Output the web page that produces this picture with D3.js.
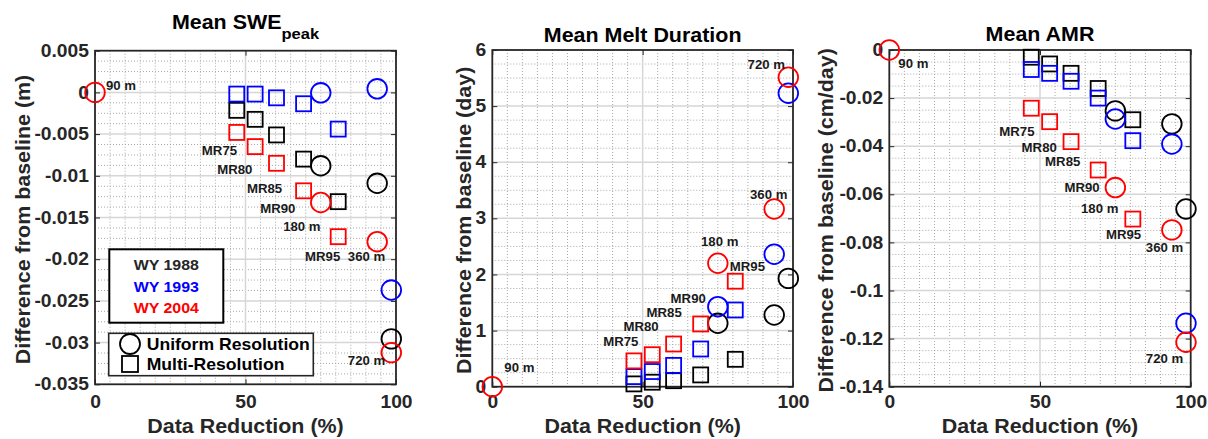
<!doctype html>
<html>
<head>
<meta charset="utf-8">
<title>Difference from baseline vs data reduction</title>
<script src="https://cdn.jsdelivr.net/npm/d3@7"></script>
<style>
  body { margin: 0; background: #fff; }
  svg text { font-family: "Liberation Sans", Arial, Helvetica, sans-serif; font-weight: bold; }
</style>
</head>
<body>
<svg id="chart" width="1208" height="439"></svg>
<script>
// x: data reduction (%) of each run
var mrNames = ["MR75", "MR80", "MR85", "MR90", "MR95"];
var mrReduction = [47.1, 53.2, 60.3, 69.3, 80.8];
var urNames = ["90 m", "180 m", "360 m", "720 m"];
var urReduction = [0, 75, 93.75, 98.44];

var years = ["WY 1988", "WY 1993", "WY 2004"];
var yearColors = ["#000000", "#0000ff", "#ff0000"];

var xTicks = [0, 50, 100];

// Mean SWE peak, difference from baseline (m); one row per water year
// (the 90 m baseline is only drawn once, in red, as in the figure)
var sweMR = [
  [-0.00215, -0.00323, -0.0051, -0.008, -0.0131],
  [-0.0002, -0.0002, -0.00065, -0.00136, -0.0044],
  [-0.0048, -0.0065, -0.0085, -0.0118, -0.0173]
];
var sweUR = [
  [null, -0.0088, -0.0109, -0.02955],
  [null, -0.00005, 0.00043, -0.0237],
  [0, -0.0132, -0.0179, -0.0312]
];
var sweTicks = [0.005, 0, -0.005, -0.01, -0.015, -0.02, -0.025, -0.03, -0.035];

// Mean melt duration, difference from baseline (day)
var meltMR = [
  [0.05, 0.08, 0.107, 0.21, 0.488],
  [0.18, 0.27, 0.38, 0.672, 1.367],
  [0.46, 0.57, 0.761, 1.118, 1.88]
];
var meltUR = [
  [null, 1.13, 1.278, 1.93],
  [null, 1.426, 2.36, 5.23],
  [0, 2.2, 3.167, 5.515]
];
var meltTicks = [6, 5, 4, 3, 2, 1, 0];

// Mean AMR, difference from baseline (cm/day)
var amrMR = [
  [-0.003, -0.0058, -0.0097, -0.016, -0.029],
  [-0.0081, -0.0097, -0.013, -0.020, -0.0377],
  [-0.0242, -0.0298, -0.0381, -0.0499, -0.0703]
];
var amrUR = [
  [null, -0.0253, -0.0307, -0.0661],
  [null, -0.0287, -0.0391, -0.1136],
  [0, -0.0572, -0.0748, -0.1215]
];
var amrTicks = [0, -0.02, -0.04, -0.06, -0.08, -0.1, -0.12, -0.14];

// annotation anchors, in data units (text starts here)
var sweNotes = [
  ["90 m", 3.65, 0.000275], ["MR75", 35.5, -0.00754], ["MR80", 40.6, -0.00974],
  ["MR85", 50.5, -0.01201], ["MR90", 54.9, -0.01444], ["180 m", 62.5, -0.01667],
  ["MR95", 69.8, -0.02026], ["360 m", 84.0, -0.02026], ["720 m", 84.0, -0.03274]
];
var meltNotes = [
  ["720 m", 84.9, 5.66], ["360 m", 85.7, 3.35], ["180 m", 69.4, 2.51],
  ["MR95", 79.0, 2.07], ["MR90", 59.3, 1.49], ["MR85", 51.3, 1.24],
  ["MR80", 43.6, 1.0], ["MR75", 36.9, 0.73], ["90 m", 4.0, 0.27]
];
var amrNotes = [
  ["90 m", 3.0, -0.0076], ["MR75", 36.5, -0.0356], ["MR80", 43.9, -0.0425],
  ["MR85", 51.7, -0.0481], ["MR90", 58.1, -0.0591], ["180 m", 63.6, -0.0679],
  ["MR95", 71.9, -0.0786], ["360 m", 85.1, -0.0841], ["720 m", 85.1, -0.1302]
];

var SX = 1.1;  // glyphs in the figure are a bit wider than Liberation Sans
var svg = d3.select("#chart");

function txt(parent, x, y, s, size, anchor, rot) {
  return parent.append("text")
    .attr("transform", "translate(" + x + "," + y + ")" + (rot ? " rotate(-90)" : "") + " scale(" + SX + ",1)")
    .attr("font-size", size)
    .attr("text-anchor", anchor || "start")
    .text(s);
}

function panel(p) {
  var g = svg.append("g");
  var x = d3.scaleLinear().domain([0, 100]).range([p.left, p.right]);
  var y = d3.scaleLinear().domain([p.yTicks[p.yTicks.length - 1], p.yTicks[0]]).range([p.bottom, p.top]);

  // minor grid (dotted)
  var xMinor = d3.range(5, 100, 5).filter(function(d) { return d % 50 !== 0; });
  var step = p.yTicks[0] - p.yTicks[1];
  var yMinor = [];
  for (var i = 0; i < p.yTicks.length - 1; i++)
    for (var k = 1; k < 4; k++) yMinor.push(p.yTicks[i] - step * k / 4);

  g.selectAll(null).data(xMinor).join("line")
    .attr("x1", x).attr("x2", x).attr("y1", p.top).attr("y2", p.bottom)
    .attr("stroke", "#a8a8a8").attr("stroke-width", 1).attr("stroke-dasharray", "1,2");
  g.selectAll(null).data(yMinor).join("line")
    .attr("x1", p.left).attr("x2", p.right).attr("y1", y).attr("y2", y)
    .attr("stroke", "#a8a8a8").attr("stroke-width", 1).attr("stroke-dasharray", "1,2");

  // major grid
  g.selectAll(null).data([50]).join("line")
    .attr("x1", x).attr("x2", x).attr("y1", p.top).attr("y2", p.bottom)
    .attr("stroke", "#d6d6d6").attr("stroke-width", 1.5);
  g.selectAll(null).data(p.yTicks.slice(1, -1)).join("line")
    .attr("x1", p.left).attr("x2", p.right).attr("y1", y).attr("y2", y)
    .attr("stroke", "#d6d6d6").attr("stroke-width", 1.5);

  // axes, ticks pointing inward
  function style(a, size) {
    a.select(".domain").remove();
    a.attr("color", "#262626");
    a.selectAll("text").attr("font-size", size).attr("transform", "scale(" + SX + ",1)");
  }
  g.append("g").attr("transform", "translate(" + p.left + ",0)")
    .call(d3.axisLeft(y).tickValues(p.yTicks).tickFormat(function(d) { return String(d); })
      .tickSize(-5).tickPadding(5.5))
    .call(style, 17.5);
  g.append("g").attr("transform", "translate(" + p.right + ",0)")
    .call(d3.axisRight(y).tickValues(p.yTicks).tickFormat("").tickSize(-5))
    .call(style, 1);
  g.append("g").attr("transform", "translate(0," + p.bottom + ")")
    .call(d3.axisBottom(x).tickValues(xTicks).tickFormat(String).tickSize(-5)
      .tickPadding(408 - p.bottom - 12.4))
    .call(style, 17.5);
  g.append("g").attr("transform", "translate(0," + p.top + ")")
    .call(d3.axisTop(x).tickValues(xTicks).tickFormat("").tickSize(-5))
    .call(style, 1);

  g.append("rect")
    .attr("x", p.left).attr("y", p.top)
    .attr("width", p.right - p.left).attr("height", p.bottom - p.top)
    .attr("fill", "none").attr("stroke", "#262626").attr("stroke-width", 1.8);

  // markers: squares = multi-resolution, circles = uniform resolution
  years.forEach(function(yr, j) {
    var col = yearColors[j];
    g.append("g").selectAll("rect").data(p.mr[j]).join("rect")
      .attr("x", function(d, i) { return x(mrReduction[i]) - 7.5; })
      .attr("y", function(d) { return y(d) - 7.5; })
      .attr("width", 15).attr("height", 15)
      .attr("fill", "none").attr("stroke", col).attr("stroke-width", 1.8);
    var ur = p.ur[j].map(function(d, i) { return [urReduction[i], d]; })
      .filter(function(d) { return d[1] !== null; });
    g.append("g").selectAll("circle").data(ur).join("circle")
      .attr("cx", function(d) { return x(d[0]); })
      .attr("cy", function(d) { return y(d[1]); }).attr("r", 9.8)
      .attr("fill", "none").attr("stroke", col).attr("stroke-width", 1.8);
  });

  p.notes.forEach(function(n) {
    txt(g, x(n[1]), y(n[2]), n[0], 12).attr("fill", "#1a1a1a");
  });

  // titles and axis labels
  var cx = (p.left + p.right) / 2;
  var t = g.append("text")
    .attr("transform", "translate(" + cx + "," + p.titleY + ") scale(" + SX + ",1)")
    .attr("text-anchor", "middle").attr("font-size", 19.5);
  t.append("tspan").text(p.title);
  if (p.sub) t.append("tspan").attr("font-size", 15).attr("dy", 9.2).text(p.sub);

  txt(g, cx, 433, "Data Reduction (%)", 19.5, "middle").attr("fill", "#262626");
  txt(g, p.ylabX, (p.top + p.bottom) / 2 + 2, p.ylab, 19.5, "middle", true).attr("fill", "#262626");
  return g;
}

var g1 = panel({
  left: 95, right: 396, top: 50.7, bottom: 384.3,
  yTicks: sweTicks, mr: sweMR, ur: sweUR, notes: sweNotes,
  title: "Mean SWE", sub: "peak", titleY: 29.3,
  ylab: "Difference from baseline (m)", ylabX: 30
});
panel({
  left: 492.3, right: 793, top: 50, bottom: 386.7,
  yTicks: meltTicks, mr: meltMR, ur: meltUR, notes: meltNotes,
  title: "Mean Melt Duration", titleY: 41.5,
  ylab: "Difference from baseline (day)", ylabX: 471
});
panel({
  left: 889.3, right: 1190.7, top: 50, bottom: 386.7,
  yTicks: amrTicks, mr: amrMR, ur: amrUR, notes: amrNotes,
  title: "Mean AMR", titleY: 40.7,
  ylab: "Difference from baseline (cm/day)", ylabX: 833
});

// legends (first panel)
var lg = g1.append("g");
lg.append("rect").attr("x", 109.3).attr("y", 249.3).attr("width", 114).attr("height", 73.4)
  .attr("fill", "#fff").attr("stroke", "#000").attr("stroke-width", 2);
years.forEach(function(yr, j) {
  txt(lg, 166.3, 270 + j * 21.7, yr, 14.5, "middle").attr("fill", j === 0 ? "#262626" : yearColors[j]);
});

var lm = g1.append("g");
lm.append("rect").attr("x", 108.7).attr("y", 333.3).attr("width", 204.6).attr("height", 42.4)
  .attr("fill", "#fff").attr("stroke", "#262626").attr("stroke-width", 1.6);
lm.append("circle").attr("cx", 130).attr("cy", 344).attr("r", 10)
  .attr("fill", "none").attr("stroke", "#000").attr("stroke-width", 1.8);
lm.append("rect").attr("x", 122).attr("y", 356).attr("width", 16).attr("height", 16)
  .attr("fill", "none").attr("stroke", "#000").attr("stroke-width", 1.8);
txt(lm, 146.7, 349.5, "Uniform Resolution", 16).attr("fill", "#000");
txt(lm, 146.7, 369.8, "Multi-Resolution", 16).attr("fill", "#000");
</script>
</body>
</html>
